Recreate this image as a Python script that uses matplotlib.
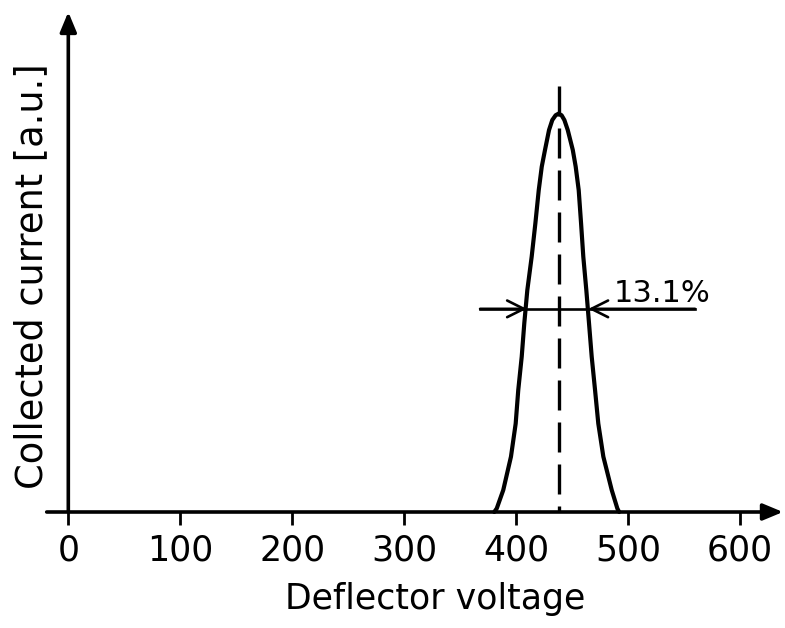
# 偏转电压扫描曲线 (collected current vs deflector voltage)
import matplotlib
matplotlib.use('Agg')
import matplotlib.pyplot as plt

################################## 数据 #####################################
# 曲线上的点, 从图上读出来的 (左边上升, 右边下降)
voltage = [380.5, 382.7, 388.5, 395.4, 399.6, 401.9, 405.0, 407.3, 410.0, 413.9,
           417.2, 420.2, 422.9, 425.8, 429.4, 432.3, 435.3, 437.9,
           440.6, 443.1, 446.1, 450.6, 453.2, 455.9, 458.0, 460.0, 462.7,
           465.1, 467.5, 470.5, 473.4, 477.9, 485.4, 490.4, 492.0]
current = [0.0, 0.009, 0.055, 0.139, 0.222, 0.306, 0.390, 0.474, 0.557, 0.641,
           0.725, 0.808, 0.867, 0.909, 0.959, 0.984, 0.996, 1.0,
           0.996, 0.984, 0.959, 0.909, 0.867, 0.808, 0.725, 0.641, 0.557,
           0.474, 0.390, 0.306, 0.222, 0.139, 0.055, 0.009, 0.0]

peak_v = 438.3        # 虚线位置
fwhm_left = 409.5     # 半高宽左点
fwhm_right = 464.6    # 半高宽右点
half_level = 0.51
fwhm_text = '13.1%'

x_ticks = [0, 100, 200, 300, 400, 500, 600]
x_label = 'Deflector voltage'
y_label = 'Collected current [a.u.]'
################################## 数据 #####################################

fig = plt.figure(figsize=(7.85, 6.28), dpi=100)
ax = fig.add_axes([46.7 / 785, 116 / 628, 718.3 / 785, 480 / 628])
ax.set_xlim(-19.3, 622.3)
ax.set_ylim(0, 1.205)
for s in ax.spines.values():
    s.set_visible(False)

# 坐标轴 (带箭头)
ax.annotate('', xy=(1.025, 0), xycoords=('axes fraction', 'data'),
            xytext=(0, 0), textcoords=('axes fraction', 'data'),
            arrowprops=dict(arrowstyle='-|>,head_length=1.2,head_width=0.5', lw=2.6,
                            color='k', shrinkA=0, shrinkB=0, mutation_scale=10),
            annotation_clip=False)
ax.annotate('', xy=(0, 1.0417), xycoords=('data', 'axes fraction'),
            xytext=(0, 0), textcoords=('data', 'axes fraction'),
            arrowprops=dict(arrowstyle='-|>,head_length=1.2,head_width=0.5', lw=2.6,
                            color='k', shrinkA=0, shrinkB=0, mutation_scale=10),
            annotation_clip=False)

ax.set_xticks(x_ticks)
ax.set_xticklabels([str(t) for t in x_ticks], fontsize=25)
ax.tick_params(axis='x', direction='out', length=9.4, width=2.0, pad=6)
ax.set_yticks([])

ax.set_xlabel(x_label, fontsize=25)
ax.xaxis.set_label_coords(0.5406, -0.146)
ax.set_ylabel(y_label, fontsize=26.5)
ax.yaxis.set_label_coords(0.005, 0.4917)

# 曲线
ax.plot(voltage, current, color='k', lw=3.0, solid_joinstyle='round',
        solid_capstyle='round', clip_on=False)

# 中心虚线
ax.plot([peak_v, peak_v], [1.07, 0], color='k', lw=2.4, dashes=(9, 3.6))

# 半高宽标注
ax.plot([367.8, 559.8], [half_level, half_level], color='k', lw=1.9)
ax.annotate('', xy=(fwhm_left, half_level), xytext=(367.8, half_level),
            arrowprops=dict(arrowstyle='->,head_length=0.4,head_width=0.2', lw=1.9,
                            color='k', shrinkA=0, shrinkB=0, mutation_scale=30))
ax.annotate('', xy=(fwhm_right, half_level), xytext=(559.8, half_level),
            arrowprops=dict(arrowstyle='->,head_length=0.4,head_width=0.2', lw=1.9,
                            color='k', shrinkA=0, shrinkB=0, mutation_scale=30))
ax.text(487.5, 0.527, fwhm_text, fontsize=22, ha='left', va='baseline')

fig.savefig('out.png', dpi=100)
